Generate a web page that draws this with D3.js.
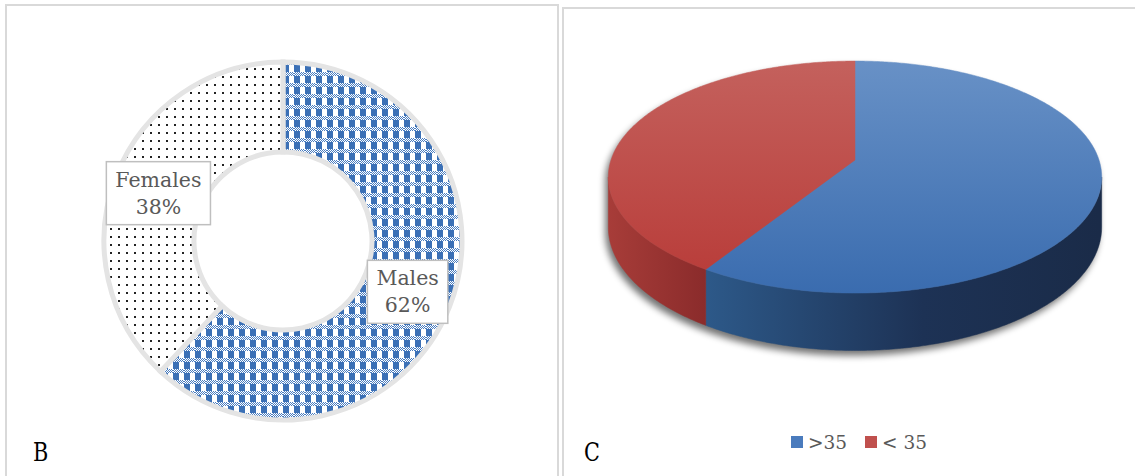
<!DOCTYPE html>
<html>
<head>
<meta charset="utf-8">
<script src="https://cdn.jsdelivr.net/npm/d3@7"></script>
<style>
  html, body { margin: 0; padding: 0; background: #ffffff; }
  svg { display: block; }
</style>
</head>
<body>
<svg id="chart" width="1135" height="476"></svg>
<script>
// ---- Data ----
const genderCategories = ["Males", "Females"];
const genderValues = [62, 38];
const ageCategories = [">35", "< 35"];
const ageValues = [59, 41];
const panelLetters = ["B", "C"];

const svg = d3.select("#chart");
const defs = svg.append("defs");

// ---- Patterns for the doughnut ----
// gingham check: solid blue blocks joined by finely checkered bands
const T = 11;
const check = defs.append("pattern").attr("id", "gingham")
  .attr("patternUnits", "userSpaceOnUse").attr("width", T).attr("height", T);
check.append("rect").attr("width", T).attr("height", T).attr("fill", "#ffffff");
check.append("rect").attr("x", 0).attr("y", 0).attr("width", 6).attr("height", 7).attr("fill", "#3b70b6");
for (let y = 7; y < T; y++) {
  for (let x = 0; x < T; x++) {
    if ((x + y) % 2 === 0) {
      check.append("rect").attr("x", x).attr("y", y).attr("width", 1).attr("height", 1)
        .attr("fill", "#4a7dc0");
    }
  }
}
// sparse dot screen
const dots = defs.append("pattern").attr("id", "dots")
  .attr("patternUnits", "userSpaceOnUse").attr("width", 8).attr("height", 8);
dots.append("rect").attr("width", 8).attr("height", 8).attr("fill", "#ffffff");
dots.append("rect").attr("x", 3).attr("y", 3).attr("width", 2).attr("height", 2).attr("fill", "#222222");

// ---- Panel frames ----
svg.append("rect").attr("x", 6).attr("y", 5).attr("width", 552).attr("height", 480)
  .attr("fill", "none").attr("stroke", "#d9d9d9").attr("stroke-width", 2);
svg.append("rect").attr("x", 563).attr("y", 8).attr("width", 580).attr("height", 480)
  .attr("fill", "none").attr("stroke", "#d9d9d9").attr("stroke-width", 2);

// ---- Panel B: doughnut ----
const donutG = svg.append("g").attr("transform", "translate(283,241)");
const donutPie = d3.pie().sort(null).value(d => d.v);
const donutArc = d3.arc().innerRadius(89).outerRadius(179);
const donutData = donutPie(genderCategories.map((c, i) => ({ c, v: genderValues[i] })));
const fills = { "Males": "url(#gingham)", "Females": "url(#dots)" };

donutG.selectAll("path.seg").data(donutData).enter().append("path")
  .attr("class", "seg")
  .attr("d", donutArc)
  .attr("fill", d => fills[d.data.c])
  .attr("stroke", "#e4e4e4")
  .attr("stroke-width", 5);

donutData.forEach(d => {
  const [lx, ly] = donutArc.centroid(d);
  const g = donutG.append("g").attr("transform", `translate(${lx},${ly})`);
  const box = g.append("rect");
  const t = g.append("text")
    .attr("text-anchor", "middle")
    .attr("font-family", "'DejaVu Serif', serif")
    .attr("font-size", 20.5)
    .attr("fill", "#595959");
  t.append("tspan").attr("x", 0).attr("y", -5).text(d.data.c);
  t.append("tspan").attr("x", 0).attr("y", 22).text(d.data.v + "%");
  const bb = t.node().getBBox();
  const padX = 9, padY = 6;
  box.attr("x", bb.x - padX).attr("y", bb.y - padY)
    .attr("width", bb.width + 2 * padX).attr("height", bb.height + 2 * padY)
    .attr("fill", "#ffffff").attr("stroke", "#bfbfbf").attr("stroke-width", 1.5);
});

// ---- Panel C: 3-D pie in perspective ----
const P = { cx: 855, cy: 160, a: 244, b: 113.5, k: -0.147, depth: 49 };
function project(theta, drop) {
  const u = Math.sin(theta), v = -Math.cos(theta);
  const w = 1 + P.k * v;
  return [P.cx + P.a * u / w, P.cy + P.b * v / w + drop / w];
}
function arcPoints(t0, t1, drop) {
  const n = Math.max(2, Math.ceil(Math.abs(t1 - t0) / 0.01));
  const pts = [];
  for (let i = 0; i <= n; i++) pts.push(project(t0 + (t1 - t0) * i / n, drop));
  return pts;
}
const line = d3.line();

const agePie = d3.pie().sort(null).value(d => d.v);
const ageData = agePie(ageCategories.map((c, i) => ({ c, v: ageValues[i] })));
const ageColor = d3.scaleOrdinal().domain(ageCategories).range(["#4a7bbd", "#c0504d"]);

// gradients
function linGrad(id, x1, y1, x2, y2, stops) {
  const g = defs.append("linearGradient").attr("id", id).attr("gradientUnits", "userSpaceOnUse")
    .attr("x1", x1).attr("y1", y1).attr("x2", x2).attr("y2", y2);
  stops.forEach(([o, c]) => g.append("stop").attr("offset", o).attr("stop-color", c));
}
linGrad("topBlue", 0, 61, 0, 293, [[0, "#6891c6"], [1, "#3a6caf"]]);
linGrad("topRed", 0, 61, 0, 293, [[0, "#c4615d"], [1, "#b83a37"]]);
linGrad("sideBlue", 705, 0, 1100, 0, [[0, "#2d5989"], [0.55, "#1d3255"], [1, "#1a2b48"]]);
linGrad("sideRed", 606, 0, 707, 0, [[0, "#a83d39"], [1, "#8a2b2b"]]);
const topFill = { ">35": "url(#topBlue)", "< 35": "url(#topRed)" };
const sideFill = { ">35": "url(#sideBlue)", "< 35": "url(#sideRed)" };

// soft drop shadow under the disc
const blur = defs.append("filter").attr("id", "soft").attr("x", "-10%").attr("y", "-10%")
  .attr("width", "120%").attr("height", "130%");
blur.append("feGaussianBlur").attr("stdDeviation", 3.5);

const sideStart = Math.acos(P.k);            // left/right silhouette angles
const sideEnd = 2 * Math.PI - Math.acos(P.k);
const silhouette = arcPoints(sideStart, sideEnd, P.depth)
  .concat(arcPoints(sideEnd, sideStart + 2 * Math.PI, 0));
svg.append("path").attr("d", line(silhouette) + "Z")
  .attr("transform", "translate(-3,5)")
  .attr("fill", "#000000").attr("opacity", 0.55).attr("filter", "url(#soft)");

const pieG = svg.append("g");
// sides
ageData.forEach(d => {
  const s = Math.max(d.startAngle, sideStart), e = Math.min(d.endAngle, sideEnd);
  if (e <= s) return;
  const pts = arcPoints(s, e, 0).concat(arcPoints(e, s, P.depth));
  pieG.append("path").attr("d", line(pts) + "Z")
    .attr("fill", sideFill[d.data.c]).attr("stroke", sideFill[d.data.c]).attr("stroke-width", 0.5);
});
// tops
ageData.forEach(d => {
  const pts = [[P.cx, P.cy]].concat(arcPoints(d.startAngle, d.endAngle, 0));
  pieG.append("path").attr("d", line(pts) + "Z")
    .attr("fill", topFill[d.data.c]).attr("stroke", topFill[d.data.c]).attr("stroke-width", 0.5);
});

// legend
const legend = svg.append("g").attr("transform", "translate(791,436)");
const legX = [0, 74];
ageCategories.forEach((c, i) => {
  const g = legend.append("g").attr("transform", `translate(${legX[i]},0)`);
  g.append("rect").attr("width", 12).attr("height", 12).attr("fill", ageColor(c));
  g.append("text").attr("x", 17).attr("y", 12.5)
    .attr("font-family", "'DejaVu Serif', serif").attr("font-size", 18.5)
    .attr("fill", "#595959").text(c);
});

// panel letters
[[33, 461], [584, 461]].forEach(([x, y], i) => {
  svg.append("text").attr("transform", `translate(${x},${y}) scale(0.8,1)`)
    .attr("font-family", "'DejaVu Serif', serif").attr("font-size", 26)
    .attr("fill", "#000000").text(panelLetters[i]);
});
</script>
</body>
</html>
